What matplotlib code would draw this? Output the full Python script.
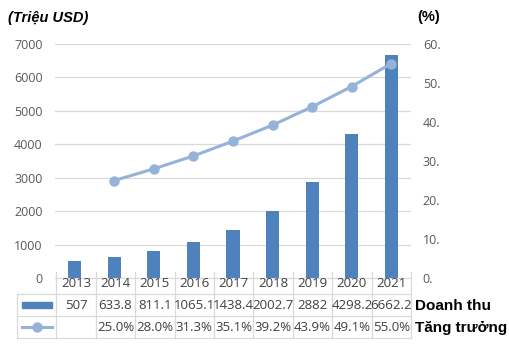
import numpy as np
import matplotlib.pyplot as plt
from matplotlib.patches import Rectangle
from matplotlib.lines import Line2D

# ----------- DATA --------------
years = ['2013', '2014', '2015', '2016', '2017', '2018', '2019', '2020', '2021']
revenue = [507, 633.8, 811.1, 1065.1, 1438.4, 2002.7, 2882, 4298.2, 6662.2]
revenue_labels = ['507', '633.8', '811.1', '1065.1', '1438.4', '2002.7', '2882', '4298.2', '6662.2']
growth = [None, 25.0, 28.0, 31.3, 35.1, 39.2, 43.9, 49.1, 55.0]
left_ticks = [0, 1000, 2000, 3000, 4000, 5000, 6000, 7000]
right_ticks = [0, 10, 20, 30, 40, 50, 60]
right_tick_labels = ['0.', '10.', '20.', '30.', '40.', '50.', '60.']

bar_color = '#4f81bd'
line_color = '#95b3d7'
grid_color = '#d9d9d9'
text_color = '#595959'

plt.rcParams['font.family'] = ['Open Sans', 'DejaVu Sans']

W, H = 510, 350
fig = plt.figure(figsize=(W / 100, H / 100), dpi=100)

# ----------- MAIN AXES --------------
ax = fig.add_axes([55 / W, 72 / H, 356 / W, 234 / H])
x = np.arange(len(years))
ax.bar(x, revenue, width=0.33, color=bar_color, zorder=2)
ax.set_xlim(-0.5, len(years) - 0.5)
ax.set_ylim(0, 7000)
ax.set_yticks(left_ticks)
ax.set_yticklabels([str(t) for t in left_ticks], color=text_color, fontsize=9)
ax.set_xticks([])
ax.tick_params(axis='y', length=0, pad=9)
ax.grid(axis='y', color=grid_color, lw=0.9, zorder=0)
for s in ['top', 'right', 'left']:
    ax.spines[s].set_visible(False)
ax.spines['bottom'].set_color(grid_color)

ax2 = ax.twinx()
gx = [i for i, g in enumerate(growth) if g is not None]
gy = [g for g in growth if g is not None]
ax2.plot(gx, gy, color=line_color, lw=2.2, marker='o', markersize=6.5, zorder=3)
ax2.set_ylim(0, 60)
ax2.set_yticks(right_ticks)
ax2.set_yticklabels(right_tick_labels, color=text_color, fontsize=9)
ax2.tick_params(axis='y', length=0, pad=8.5)
for s in ax2.spines.values():
    s.set_visible(False)

fig.text(8 / W, 1 - 18 / H, '(Triệu USD)', fontsize=10.5, fontweight='bold',
         fontstyle='italic', family='Liberation Sans', va='center', ha='left')
fig.text(417 / W, 1 - 17 / H, '(%)', fontsize=10.5, fontweight='bold',
         family='Liberation Sans', va='center', ha='left')

# ----------- DATA TABLE --------------
tb = fig.add_axes([17 / W, 8 / H, 394 / W, 70 / H])
tb.set_xlim(-1.5, len(years) - 0.5)
tb.set_ylim(3.2, 0)
tb.axis('off')

n = len(years)
lk = dict(color=grid_color, lw=0.9, clip_on=False)
for r in [1, 2, 3]:
    tb.plot([-1.5, n - 0.5], [r, r], **lk)
tb.plot([-1.5, -1.5], [1, 3], **lk)
for k in range(n + 1):
    tb.plot([k - 0.5, k - 0.5], [0, 3], **lk)

fs = 9.5
for i in range(n):
    tb.text(i, 0.52, years[i], ha='center', va='center', fontsize=fs, color='#404040')
    tb.text(i, 1.52, revenue_labels[i], ha='center', va='center', fontsize=fs, color='#404040')
    if growth[i] is not None:
        tb.text(i, 2.52, f'{growth[i]:.1f}%', ha='center', va='center', fontsize=fs, color='#404040')

tb.add_patch(Rectangle((-1.38, 1.35), 0.76, 0.3, color=bar_color, clip_on=False))
tb.add_line(Line2D([-1.38, -0.62], [2.5, 2.5], color=line_color, lw=2.2))
tb.plot([-1.0], [2.5], marker='o', color=line_color, markersize=6.5)

tb.text(n - 0.4, 1.55, 'Doanh thu', ha='left', va='center', fontsize=11,
        fontweight='bold', family='Liberation Sans')
tb.text(n - 0.4, 2.55, 'Tăng trưởng', ha='left', va='center', fontsize=11,
        fontweight='bold', family='Liberation Sans')

fig.savefig('out.png', dpi=100)
